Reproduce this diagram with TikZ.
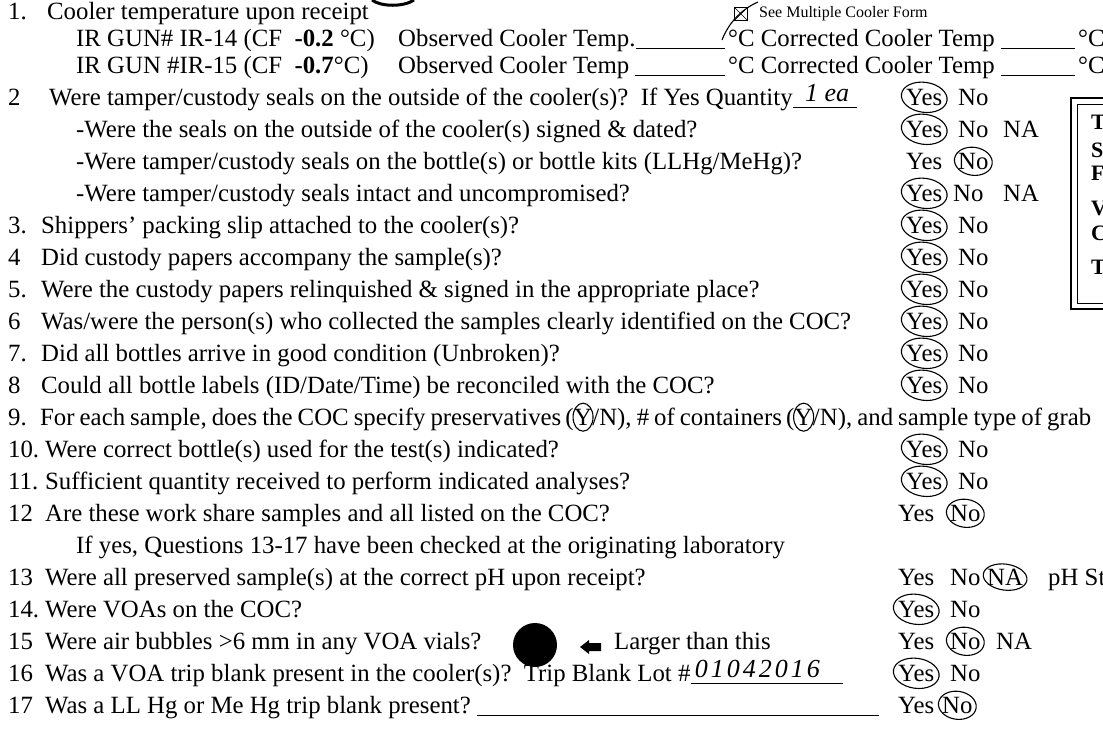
\documentclass[tikz,border=0pt]{standalone}
\usepackage{fontspec}
\setmainfont{Liberation Serif}
\usetikzlibrary{positioning, arrows.meta}
\newcommand{\qfont}{\fontsize{24.8}{29}\selectfont}
\newcommand{\notefont}{\fontsize{16}{19}\selectfont}
\newcommand{\handfont}{\itshape\fontsize{26}{30}\selectfont}
\newcommand{\boxfont}{\bfseries\fontsize{22}{26}\selectfont}

\begin{document}
\begin{tikzpicture}[
  x=1pt, y=-1pt,
  qnum/.style={anchor=mid west, inner sep=0pt, font=\qfont},
  qtext/.style={anchor=mid west, inner sep=0pt, font=\qfont},
  qpart/.style={anchor=base west, inner sep=0pt, font={\qfont\spaceskip=0.205em\relax}},
  ans/.style={anchor=mid west, inner sep=0pt, font=\qfont},
  hand/.style={anchor=mid west, inner sep=0pt, font=\handfont},
  boxtext/.style={anchor=mid west, inner sep=0pt, font=\boxfont},
  pen/.style={draw, line width=1.1pt},
  blankline/.style={line width=0.8pt}
]
  \useasboundingbox (0,0) rectangle (1103,729);
  \fill[white] (0,0) rectangle (1103,729);

  % mark cut at the top edge
  \draw[line width=3pt] (372,0) .. controls (381,7) and (404,7) .. (414,0);

  % question 1
  \node[qnum] (n1) at (8,17) {1.};
  \node[qtext] (q1) at (47,17) {Cooler temperature upon receipt};
  \node[draw, line width=1pt, minimum size=13pt, inner sep=0pt] (chk) at (741,14) {};
  \draw (chk.north west) -- (chk.south east) (chk.north east) -- (chk.south west);
  \draw[pen] (722,40) .. controls (729,22) and (742,9) .. (758,2);
  \node[anchor=mid west, inner sep=0pt, font=\notefont] (multi) at (759,15) {See Multiple Cooler Form};

  \node[qtext] (ir14) at (76,44) {IR GUN\# IR-14 (CF\ \ \textbf{-0.2} °C)};
  \node[qtext] (obs14) at (398,44) {Observed Cooler Temp.};
  \node[qtext] (cor14) at (728,44) {°C Corrected Cooler Temp};
  \node[qtext] (deg14) at (1078,44) {°C};
  \draw[blankline] ([yshift=-2pt]obs14.base east) -- ([yshift=-2pt,xshift=-3pt]cor14.base west);
  \draw[blankline] ([yshift=-2pt,xshift=6pt]cor14.base east) -- ([yshift=-2pt,xshift=-3pt]deg14.base west);

  \node[qtext] (ir15) at (76,71) {IR GUN \#IR-15 (CF\ \ \textbf{-0.7}°C)};
  \node[qtext] (obs15) at (398,71) {Observed Cooler Temp};
  \node[qtext] (cor15) at (728,71) {°C Corrected Cooler Temp};
  \node[qtext] (deg15) at (1078,71) {°C};
  \draw[blankline] ([yshift=-2pt,xshift=6pt]obs15.base east) -- ([yshift=-2pt,xshift=-3pt]cor15.base west);
  \draw[blankline] ([yshift=-2pt,xshift=6pt]cor15.base east) -- ([yshift=-2pt,xshift=-3pt]deg15.base west);

  % question 2 and its seals
  \node[qnum] (n2) at (8,103) {2};
  \node[qtext] (q2) at (49,103) {Were tamper/custody seals on the outside of the cooler(s)?\ \ If Yes Quantity};
  \draw[blankline] ([yshift=-2pt]q2.base east) -- ++(64,0);
  \node[hand] (qty) at ([xshift=12pt]q2.east) {1 ea};
  \node[qtext] (q2a) at (76,135) {-Were the seals on the outside of the cooler(s) signed \& dated?};
  \node[qtext] (q2b) at (76,167) {-Were tamper/custody seals on the bottle(s) or bottle kits (LLHg/MeHg)?};
  \node[qtext] (q2c) at (76,199) {-Were tamper/custody seals intact and uncompromised?};

  % questions 3 to 8
  \node[qnum] (n3) at (8,231) {3.};
  \node[qtext] (q3) at (41,231) {Shippers' packing slip attached to the cooler(s)?};
  \node[qnum] (n4) at (8,263) {4};
  \node[qtext] (q4) at (41,263) {Did custody papers accompany the sample(s)?};
  \node[qnum] (n5) at (8,295) {5.};
  \node[qtext] (q5) at (41,295) {Were the custody papers relinquished \& signed in the appropriate place?};
  \node[qnum] (n6) at (8,327) {6};
  \node[qtext] (q6) at (41,327) {Was/were the person(s) who collected the samples clearly identified on the COC?};
  \node[qnum] (n7) at (8,359) {7.};
  \node[qtext] (q7) at (41,359) {Did all bottles arrive in good condition (Unbroken)?};
  \node[qnum] (n8) at (8,391) {8};
  \node[qtext] (q8) at (41,391) {Could all bottle labels (ID/Date/Time) be reconciled with the COC?};

  % question 9, with the two Y letters circled
  \node[qnum] (n9) at (8,423) {9.};
  \node[qtext, font={\qfont\spaceskip=0.205em\relax}] (q9a) at (40,423) {For each sample, does the COC specify preservatives\,(};
  \node[qpart] (q9y1) at (q9a.base east) {Y};
  \node[qpart] (q9b) at (q9y1.base east) {/N), \# of containers\,(};
  \node[qpart] (q9y2) at (q9b.base east) {Y};
  \node[qpart] (q9c) at (q9y2.base east) {/N), and sample type of grab};

  % questions 10 to 17
  \node[qnum] (n10) at (8,455) {10.};
  \node[qtext] (q10) at (45,455) {Were correct bottle(s) used for the test(s) indicated?};
  \node[qnum] (n11) at (8,487) {11.};
  \node[qtext] (q11) at (45,487) {Sufficient quantity received to perform indicated analyses?};
  \node[qnum] (n12) at (8,519) {12};
  \node[qtext] (q12) at (45,519) {Are these work share samples and all listed on the COC?};
  \node[qtext] (q12s) at (76,551) {If yes, Questions 13-17 have been checked at the originating laboratory};
  \node[qnum] (n13) at (8,583) {13};
  \node[qtext] (q13) at (45,583) {Were all preserved sample(s) at the correct pH upon receipt?};
  \node[qnum] (n14) at (8,615) {14.};
  \node[qtext] (q14) at (45,615) {Were VOAs on the COC?};
  \node[qnum] (n15) at (8,647) {15};
  \node[qtext] (q15) at (45,647) {Were air bubbles >6 mm in any VOA vials?};
  \node[circle, fill, minimum size=44pt, inner sep=0pt] (bubble) at (535,645) {};
  \fill (580,647) -- (589,640) -- (589,643) -- (601,643) -- (601,651) -- (589,651) -- (589,654) -- cycle;
  \node[qtext] (larger) at (614,647) {Larger than this};
  \node[qnum] (n16) at (8,679) {16};
  \node[qtext] (q16) at (45,679) {Was a VOA trip blank present in the cooler(s)?\ \ Trip Blank Lot \#};
  \draw[blankline] ([yshift=-2pt]q16.base east) -- ++(152,0);
  \node[hand] (lot) at ([xshift=4pt]q16.east) {0\kern3pt1\kern3pt0\kern3pt4\kern3pt2\kern3pt0\kern3pt1\kern3pt6};
  \node[qnum] (n17) at (8,711) {17};
  \node[qtext] (q17) at (45,711) {Was a LL Hg or Me Hg trip blank present?};
  \draw[blankline] ([yshift=-2pt,xshift=6pt]q17.base east) -- ++(402,0);

  % answers
  \foreach \qid/\qy in {a2/103, a2a/135, a2b/167, a3/231, a4/263, a5/295, a6/327, a7/359, a8/391, a10/455, a11/487} {
    \node[ans] (\qid-yes) at (906,\qy) {Yes};
    \node[ans] (\qid-no) at (958,\qy) {No};
  }
  \node[ans] (a2a-na) at (1003,135) {NA};
  \node[ans] (a2c-yes) at (906,199) {Yes};
  \node[ans] (a2c-no) at (953,199) {No};
  \node[ans] (a2c-na) at (1003,199) {NA};
  \foreach \qid/\qy in {a12/519, a13/583, a14/615, a15/647, a16/679} {
    \node[ans] (\qid-yes) at (898,\qy) {Yes};
    \node[ans] (\qid-no) at (950,\qy) {No};
  }
  \node[ans] (a13-na) at (987,583) {NA};
  \node[qtext] (phst) at (1048,583) {pH St};
  \node[ans] (a15-na) at (996,647) {NA};
  \node[ans] (a17-yes) at (898,711) {Yes};
  \node[ans] (a17-no) at (942,711) {No};

  % circled answers
  \foreach \qid in {a2, a2a, a2c, a3, a4, a5, a6, a7, a8, a10, a11, a14, a16} {
    \draw[pen, rotate=-8] (\qid-yes.center) ellipse (23 and 15);
  }
  \foreach \qid in {a2b, a12, a15, a17} {
    \draw[pen, rotate=-8] (\qid-no.center) ellipse (19 and 14);
  }
  \draw[pen, rotate=-8] (a13-na.center) ellipse (22 and 13);
  \draw[pen] (q9y1.center) ellipse (10 and 14);
  \draw[pen] (q9y2.center) ellipse (10 and 14);

  % framed note cut at the right edge
  \draw[line width=2pt] (1071,98) rectangle (1125,309);
  \draw[line width=0.9pt] (1077,104) rectangle (1125,303);
  \node[boxtext] (bt1) at (1091,127) {T};
  \node[boxtext] (bt2) at (1091,155) {S};
  \node[boxtext] (bt3) at (1091,178) {F};
  \node[boxtext] (bt4) at (1091,213) {V};
  \node[boxtext] (bt5) at (1091,238) {C};
  \node[boxtext] (bt6) at (1091,272) {T};
\end{tikzpicture}
\end{document}
